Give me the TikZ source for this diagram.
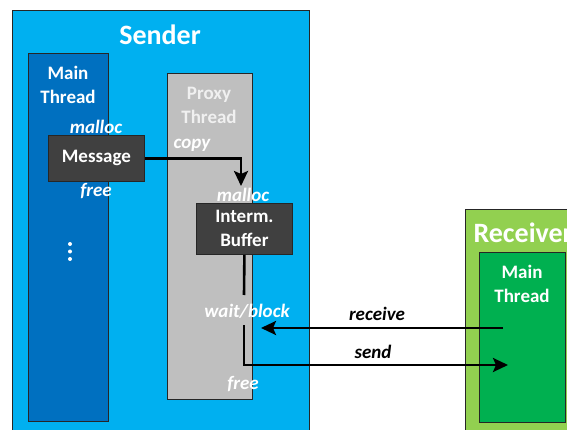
\documentclass[tikz,border=0pt]{standalone}
\usepackage{fontspec}
\setmainfont{Carlito}
\usetikzlibrary{arrows.meta}

\definecolor{senderblue}{HTML}{00B0F0}
\definecolor{threadblue}{HTML}{0070C0}
\definecolor{proxygray}{HTML}{BFBFBF}
\definecolor{darkbox}{HTML}{404040}
\definecolor{recvgreen}{HTML}{92D050}
\definecolor{threadgreen}{HTML}{00B050}

\tikzset{
  panel/.style={draw=black!85, line width=0.8pt, inner sep=0pt, anchor=north west},
  title/.style={text=white, font=\fontsize{28}{32}\selectfont\bfseries},
  heading/.style={text=white, align=center, font=\fontsize{19}{24}\selectfont\bfseries},
  oplabel/.style={text=white, font=\fontsize{19}{24}\selectfont\bfseries\itshape},
  msglabel/.style={text=black, font=\fontsize{19}{24}\selectfont\bfseries\itshape},
  conn/.style={draw=black, line width=2.6pt},
  tip/.style={-{Stealth[length=15pt,width=14pt,inset=3pt]}},
}

\begin{document}
\begin{tikzpicture}[x=1pt,y=-1pt]
\useasboundingbox (0,0) rectangle (567,430);
\clip (0,0) rectangle (567,430);

% sender process and its threads
\node[panel, fill=senderblue, minimum width=297pt, minimum height=440pt] (sender) at (12,10) {};
\node[title] (sendertitle) at (160,35) {Sender};
\node[panel, fill=threadblue, minimum width=80pt, minimum height=368pt] (mainthread) at (28,53) {};
\node[heading] (maintext) at (68,85) {Main\\Thread};
\node[panel, fill=proxygray, minimum width=85pt, minimum height=326pt] (proxythread) at (167,73) {};
\node[heading, text=white!94!black] (proxytext) at (209,105) {Proxy\\Thread};

% buffers
\node[panel, fill=darkbox, minimum width=96pt, minimum height=46pt, heading] (message) at (48,135) {Message};
\node[panel, fill=darkbox, minimum width=96pt, minimum height=51pt, heading] (buffer) at (196,203) {Interm.\\Buffer};

% more work on the main thread
\fill[white] (70,244) circle (2pt) (70,251.5) circle (2pt) (70,259) circle (2pt);

% receiver process
\node[panel, fill=recvgreen, minimum width=130pt, minimum height=240pt] (receiver) at (465,209) {};
\node[title, anchor=west] (receivertitle) at (470,233) {Receiver};
\node[panel, fill=threadgreen, minimum width=86pt, minimum height=170pt] (recvthread) at (479,252) {};
\node[heading] (recvtext) at (522,284) {Main\\Thread};

% operation labels
\node[oplabel] (malloca) at (96,127) {malloc};
\node[oplabel] (freea) at (96,191) {free};
\node[oplabel] (copy) at (192,145) {copy};
\node[oplabel] (mallocb) at (243,195) {malloc};
\node[oplabel] (waitblock) at (247,311) {wait/block};
\node[oplabel] (freeb) at (243,384) {free};
\node[msglabel] (receive) at (377,314) {receive};
\node[msglabel] (send) at (373,352) {send};

% connector end points
\coordinate (copyend) at (241,186);
\coordinate (waittop) at (244,295);
\coordinate (waitbot) at (244,325);
\coordinate (sendend) at (508,365);
\coordinate (recvstart) at (503,328);
\coordinate (recvend) at (261,328);

% connectors
\draw[conn, tip] (message.east) -| (copyend);
\draw[conn] (buffer.south) -- (waittop);
\draw[conn, tip] (waitbot) |- (sendend);
\draw[conn, tip] (recvstart) -- (recvend);
\end{tikzpicture}
\end{document}
